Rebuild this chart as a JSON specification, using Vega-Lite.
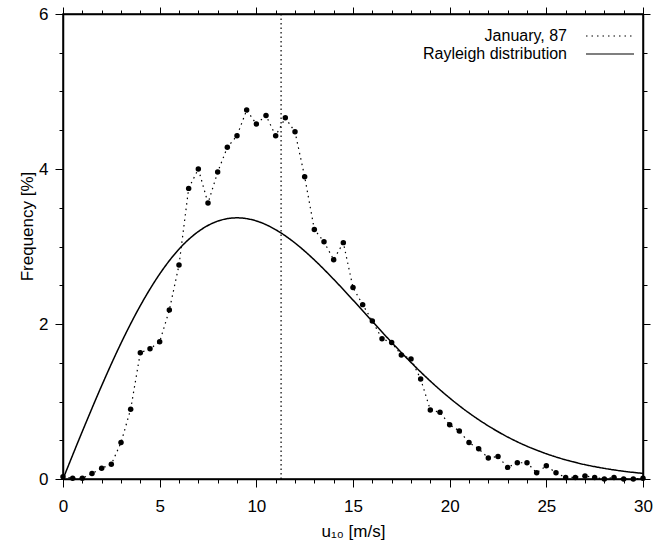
{
  "$schema": "https://vega.github.io/schema/vega-lite/v6.json",
  "width": 580,
  "height": 465,
  "autosize": {"type": "none"},
  "padding": {"left": 63, "top": 14, "right": 22, "bottom": 62},
  "background": "white",
  "config": {
    "view": {"stroke": "black", "strokeWidth": 1.5},
    "font": "Liberation Sans",
    "axis": {
      "domainColor": "black", "domainWidth": 1.5, "tickColor": "black", "tickWidth": 1,
      "labelColor": "black", "titleColor": "black", "labelFontSize": 17, "titleFontSize": 17,
      "titleFontWeight": "normal", "labelFont": "Liberation Sans", "titleFont": "Liberation Sans",
      "grid": false, "labelFlush": false, "labelOverlap": false, "format": "~g"
    }
  },
  "datasets": {
    "obs": [
      {"u": 0, "freq": 0.03}, {"u": 0.5, "freq": 0.01}, {"u": 1, "freq": 0.01}, {"u": 1.5, "freq": 0.07},
      {"u": 2, "freq": 0.14}, {"u": 2.5, "freq": 0.19}, {"u": 3, "freq": 0.47}, {"u": 3.5, "freq": 0.9},
      {"u": 4, "freq": 1.63}, {"u": 4.5, "freq": 1.68}, {"u": 5, "freq": 1.77}, {"u": 5.5, "freq": 2.18},
      {"u": 6, "freq": 2.76}, {"u": 6.5, "freq": 3.75}, {"u": 7, "freq": 4.0}, {"u": 7.5, "freq": 3.56},
      {"u": 8, "freq": 3.96}, {"u": 8.5, "freq": 4.28}, {"u": 9, "freq": 4.43}, {"u": 9.5, "freq": 4.76},
      {"u": 10, "freq": 4.58}, {"u": 10.5, "freq": 4.69}, {"u": 11, "freq": 4.43}, {"u": 11.5, "freq": 4.66},
      {"u": 12, "freq": 4.48}, {"u": 12.5, "freq": 3.9}, {"u": 13, "freq": 3.22}, {"u": 13.5, "freq": 3.06},
      {"u": 14, "freq": 2.83}, {"u": 14.5, "freq": 3.05}, {"u": 15, "freq": 2.47}, {"u": 15.5, "freq": 2.25},
      {"u": 16, "freq": 2.04}, {"u": 16.5, "freq": 1.81}, {"u": 17, "freq": 1.76}, {"u": 17.5, "freq": 1.6},
      {"u": 18, "freq": 1.55}, {"u": 18.5, "freq": 1.29}, {"u": 19, "freq": 0.89}, {"u": 19.5, "freq": 0.86},
      {"u": 20, "freq": 0.7}, {"u": 20.5, "freq": 0.62}, {"u": 21, "freq": 0.47}, {"u": 21.5, "freq": 0.39},
      {"u": 22, "freq": 0.27}, {"u": 22.5, "freq": 0.29}, {"u": 23, "freq": 0.15}, {"u": 23.5, "freq": 0.21},
      {"u": 24, "freq": 0.21}, {"u": 24.5, "freq": 0.08}, {"u": 25, "freq": 0.17}, {"u": 25.5, "freq": 0.08},
      {"u": 26, "freq": 0.02}, {"u": 26.5, "freq": 0.02}, {"u": 27, "freq": 0.04}, {"u": 27.5, "freq": 0.02},
      {"u": 28, "freq": 0.0}, {"u": 28.5, "freq": 0.02}, {"u": 29, "freq": 0.0}, {"u": 29.5, "freq": 0.0},
      {"u": 30, "freq": 0.01}
    ],
    "ray": [
      {"u": 0, "freq": 0}, {"u": 1, "freq": 0.614}, {"u": 2, "freq": 1.204}, {"u": 3, "freq": 1.752},
      {"u": 4, "freq": 2.237}, {"u": 5, "freq": 2.645}, {"u": 6, "freq": 2.966}, {"u": 7, "freq": 3.193},
      {"u": 8, "freq": 3.327}, {"u": 9, "freq": 3.370}, {"u": 10, "freq": 3.330}, {"u": 11, "freq": 3.217},
      {"u": 12, "freq": 3.045}, {"u": 13, "freq": 2.827}, {"u": 14, "freq": 2.577}, {"u": 15, "freq": 2.309},
      {"u": 16, "freq": 2.034}, {"u": 17, "freq": 1.763}, {"u": 18, "freq": 1.504}, {"u": 19, "freq": 1.263},
      {"u": 20, "freq": 1.045}, {"u": 21, "freq": 0.852}, {"u": 22, "freq": 0.685}, {"u": 23, "freq": 0.542},
      {"u": 24, "freq": 0.423}, {"u": 25, "freq": 0.326}, {"u": 26, "freq": 0.247}, {"u": 27, "freq": 0.185},
      {"u": 28, "freq": 0.137}, {"u": 29, "freq": 0.100}, {"u": 30, "freq": 0.072}
    ],
    "mean": [{"u": 11.28}]
  },
  "layer": [
    {
      "data": {"name": "ray"},
      "mark": {"type": "line", "color": "black", "strokeWidth": 1.5, "interpolate": "monotone"},
      "encoding": {
        "x": {
          "field": "u", "type": "quantitative", "scale": {"domain": [0, 30], "nice": false},
          "axis": {
            "orient": "bottom", "title": "u₁₀ [m/s]",
            "values": [0,1,2,3,4,5,6,7,8,9,10,11,12,13,14,15,16,17,18,19,20,21,22,23,24,25,26,27,28,29,30],
            "labelExpr": "datum.value % 5 === 0 ? datum.label : ''",
            "tickSize": {"condition": {"test": "datum.value % 5 === 0", "value": 8}, "value": 4},
            "labelPadding": 11, "titlePadding": 9
          }
        },
        "y": {
          "field": "freq", "type": "quantitative", "scale": {"domain": [0, 6], "nice": false},
          "axis": {
            "orient": "left", "title": "Frequency [%]",
            "values": [0,0.5,1,1.5,2,2.5,3,3.5,4,4.5,5,5.5,6],
            "labelExpr": "datum.value % 2 === 0 ? datum.label : ''",
            "tickSize": {"condition": {"test": "datum.value % 2 === 0", "value": 8}, "value": 4},
            "labelPadding": 7, "titlePadding": 2, "titleY": 212
          }
        },
        "strokeDash": {
          "datum": "Rayleigh distribution",
          "scale": {"domain": ["January, 87", "Rayleigh distribution"], "range": [[1.5, 4], [1, 0]]},
          "legend": {
            "orient": "none", "legendX": 354, "legendY": 14, "title": null,
            "symbolType": "M-4,0H4", "symbolSize": 144, "symbolStrokeColor": "black", "symbolStrokeWidth": 1.2,
            "symbolFillColor": "transparent",
            "symbolOffset": 185, "labelOffset": -51, "labelAlign": "right",
            "labelFontSize": 16, "labelFont": "Liberation Sans", "labelColor": "black",
            "rowPadding": 2, "padding": 0
          }
        }
      }
    },
    {
      "data": {"name": "obs"},
      "mark": {"type": "line", "color": "black", "strokeWidth": 1.2},
      "encoding": {
        "x": {"field": "u", "type": "quantitative", "axis": null},
        "y": {"field": "freq", "type": "quantitative", "axis": null},
        "strokeDash": {"datum": "January, 87"}
      }
    },
    {
      "data": {"name": "obs"},
      "mark": {"type": "point", "filled": true, "color": "black", "size": 30, "opacity": 1},
      "encoding": {
        "x": {
          "field": "u", "type": "quantitative",
          "axis": {
            "orient": "top", "title": null, "labels": false,
            "values": [0,1,2,3,4,5,6,7,8,9,10,11,12,13,14,15,16,17,18,19,20,21,22,23,24,25,26,27,28,29,30],
            "tickSize": {"condition": {"test": "datum.value % 5 === 0", "value": 7}, "value": 4}
          }
        },
        "y": {
          "field": "freq", "type": "quantitative",
          "axis": {
            "orient": "right", "title": null, "labels": false,
            "values": [0,0.5,1,1.5,2,2.5,3,3.5,4,4.5,5,5.5,6],
            "tickSize": {"condition": {"test": "datum.value % 2 === 0", "value": 7}, "value": 4}
          }
        }
      }
    },
    {
      "data": {"name": "mean"},
      "mark": {"type": "rule", "color": "black", "strokeDash": [1.5, 3], "strokeWidth": 1.2},
      "encoding": {"x": {"field": "u", "type": "quantitative", "axis": null}}
    }
  ],
  "resolve": {"axis": {"x": "independent", "y": "independent"}}
}
